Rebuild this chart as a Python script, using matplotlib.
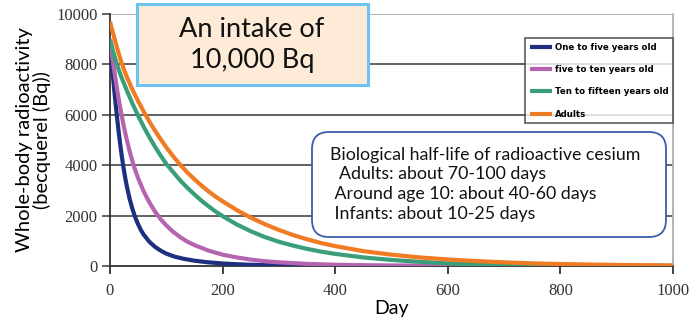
import matplotlib
matplotlib.use("Agg")
from matplotlib import pyplot as plt
from matplotlib.patches import FancyBboxPatch, Rectangle

# values (Bq remaining vs day)
days_child = [0, 3, 6, 9, 12, 15, 18, 21, 24, 27, 30, 35, 40, 45, 50, 55, 60, 70, 80, 90, 100,
              115, 130, 150, 175, 200, 225, 250, 300, 350, 400, 500, 600, 1000]
child = [8900, 8100, 7350, 6650, 6000, 5400, 4850, 4350, 3900, 3500, 3150, 2650, 2250, 1920, 1650, 1420, 1240, 960, 760, 610, 490,
         370, 290, 210, 145, 100, 70, 48, 22, 10, 4, 1, 0, 0]

days_age10 = [0, 5, 10, 15, 20, 25, 30, 35, 40, 45, 50, 60, 70, 80, 90, 100, 112, 125, 137, 150, 175, 200,
              225, 250, 275, 300, 350, 400, 450, 500, 600, 700, 800, 1000]
age10 = [9000, 8150, 7380, 6680, 6050, 5490, 4990, 4540, 4140, 3790, 3480, 2950, 2520, 2160, 1860, 1610, 1360, 1140, 970, 830, 610, 450,
         340, 255, 190, 145, 85, 50, 30, 18, 6, 2, 1, 0]

days_teen = [0, 5, 10, 15, 20, 25, 30, 40, 50, 60, 70, 80, 90, 100, 112, 125, 137, 150, 162, 175, 187, 200,
             225, 250, 275, 300, 325, 350, 375, 400, 450, 500, 550, 600, 650, 700, 800, 900, 1000]
teen = [9000, 8560, 8170, 7820, 7510, 7230, 6960, 6440, 5960, 5520, 5110, 4730, 4380, 4050, 3730, 3390, 3110, 2840, 2600, 2370, 2170, 1980,
        1650, 1380, 1150, 960, 810, 680, 570, 480, 340, 240, 165, 105, 68, 42, 16, 6, 2]

days_adult = [0, 5, 10, 15, 20, 25, 30, 40, 50, 60, 70, 80, 90, 100, 112, 125, 137, 150, 162, 175, 187, 200,
              225, 250, 275, 300, 325, 350, 375, 400, 450, 500, 550, 600, 650, 700, 750, 800, 900, 1000]
adult = [9700, 9270, 8860, 8470, 8100, 7790, 7500, 6990, 6540, 6120, 5730, 5370, 5030, 4710, 4360, 4010, 3720, 3440, 3200, 2960, 2760, 2570,
         2220, 1920, 1660, 1430, 1230, 1060, 910, 790, 590, 450, 340, 260, 195, 145, 105, 78, 42, 22]

labels = ["One to five years old", "five to ten years old", "Ten to fifteen years old", "Adults"]
colors = ["#1f2f7f", "#b565b0", "#3a9e78", "#f07b23"]

yticks = [0, 2000, 4000, 6000, 8000, 10000]
xticks = [0, 200, 400, 600, 800, 1000]

note_lines = ["Biological half-life of radioactive cesium",
              "  Adults: about 70-100 days",
              " Around age 10: about 40-60 days",
              " Infants: about 10-25 days"]

plt.rcParams['font.family'] = ['Lato', 'DejaVu Sans']

fig = plt.figure(figsize=(6.93, 3.28), dpi=100)
ax = fig.add_axes([110/693, 62/328, 563/693, 252/328])

series = [(days_child, child), (days_age10, age10), (days_teen, teen), (days_adult, adult)]
for (d, v), lab, c in zip(series, labels, colors):
    ax.plot(d, v, color=c, lw=3, label=lab, solid_capstyle='butt', solid_joinstyle='round', zorder=3)

ax.set_xlim(0, 1000)
ax.set_ylim(0, 10000)
ax.set_xticks(xticks)
ax.set_yticks(yticks)
for y in yticks[1:-1]:
    ax.axhline(y, color="#555555", lw=1.3, zorder=1)
ax.axhline(10000, color="#b0b0b0", lw=1.3, zorder=1)

ax.spines["top"].set_visible(False)
ax.spines["right"].set_color("#b0b0b0")
ax.spines["right"].set_linewidth(1.3)
ax.spines["left"].set_color("#333333")
ax.spines["bottom"].set_color("#333333")
ax.spines["left"].set_linewidth(1.3)
ax.spines["bottom"].set_linewidth(1.3)
ax.tick_params(axis="y", direction="out", length=6, width=1.3, color="#555555", pad=3)
ax.tick_params(axis="x", direction="out", length=6, width=1.3, color="#333333", pad=6)
ax.set_xticklabels([str(t) for t in xticks], family=['Liberation Serif', 'DejaVu Serif'],
                   fontsize=12, color="#333333")
ax.set_yticklabels([str(t) for t in yticks], family=['Liberation Serif', 'DejaVu Serif'],
                   fontsize=12, color="#333333")

ax.set_xlabel("Day", fontsize=14, labelpad=1)
ax.set_ylabel("Whole-body radioactivity\n(becquerel (Bq))", fontsize=14.5, labelpad=4, linespacing=1.0)

leg = ax.legend(loc="upper left", bbox_to_anchor=(0.737, 0.905), frameon=True, fancybox=False,
                handlelength=2.6, handletextpad=0.3, labelspacing=1.55,
                borderpad=0.55, borderaxespad=0, prop={'family': 'DejaVu Sans', 'size': 6.2, 'weight': 'bold'})
leg.get_frame().set_edgecolor("#333333")
leg.get_frame().set_linewidth(1.2)
leg.set_zorder(5)

# "An intake of" box
fig.patches.append(Rectangle((1.37, 2.43), 2.31, 0.81, transform=fig.dpi_scale_trans,
                             facecolor="#fdebd8", edgecolor="#6cc5f0", lw=2.2, zorder=5))
fig.text(252/693, (328-45)/328, "An intake of\n10,000 Bq", ha="center", va="center",
         fontsize=19.5, linespacing=1.3, color="#111111", zorder=6)

# half-life note box
fig.patches.append(FancyBboxPatch((3.12, 0.91), 3.54, 1.05, transform=fig.dpi_scale_trans,
                                  boxstyle="round,pad=0,rounding_size=0.17",
                                  facecolor="white", edgecolor="#3a5dae", lw=1.3, zorder=5))
ys = [155, 174, 194, 214]
for txt, y in zip(note_lines, ys):
    fig.text(330/693, (328-y)/328, txt, ha="left", va="center", fontsize=12.8, color="#111111", zorder=6)

fig.savefig("out.png", dpi=100)
